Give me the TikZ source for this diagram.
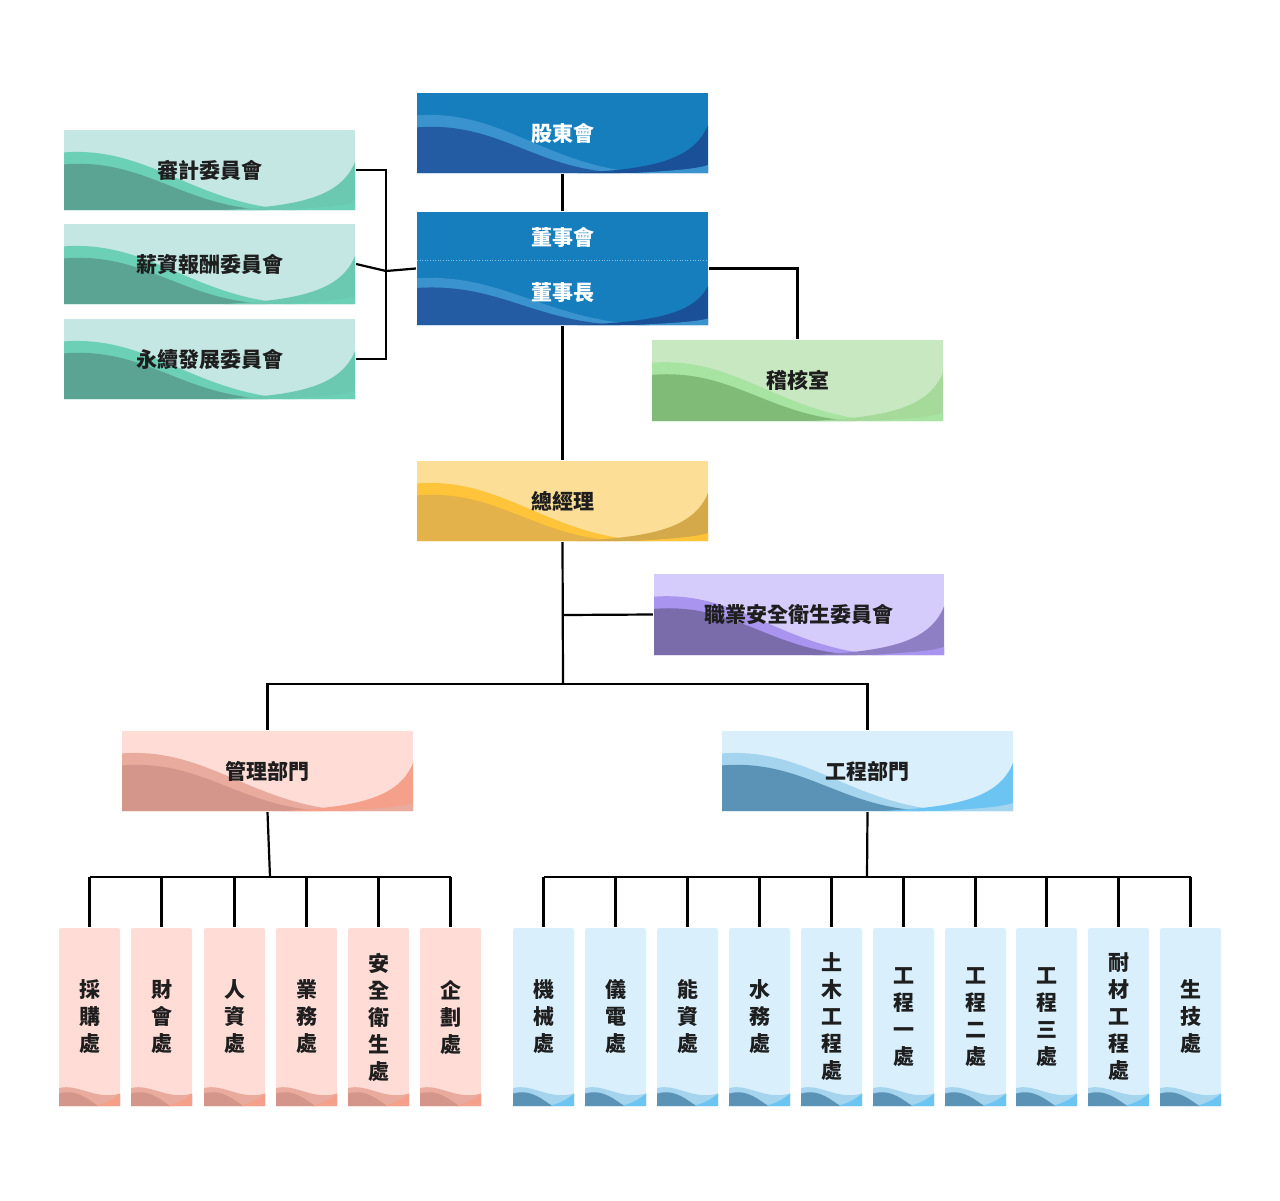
\documentclass[tikz,border=0pt]{standalone}
\usepackage{fontspec}
\setmainfont{Noto Sans CJK TC}
\begin{document}
\begin{tikzpicture}[x=1pt,y=-1pt,line width=2.2pt,
  ln/.style={draw=black,line width=2.2pt},
  lbl/.style={font=\bfseries\fontsize{21}{24}\selectfont,inner sep=0pt}]
\useasboundingbox (0,0) rectangle (1280,1200);
% colours
\definecolor{blbase}{HTML}{177EBD}\definecolor{bldark}{HTML}{235CA2}\definecolor{blband}{HTML}{3A92CE}\definecolor{blright}{HTML}{1A5098}\definecolor{bltext}{HTML}{FFFFFF}
\definecolor{tebase}{HTML}{C4E7E3}\definecolor{tedark}{HTML}{5BA393}\definecolor{teband}{HTML}{6CD0B6}\definecolor{teright}{HTML}{6BC9B1}\definecolor{tetext}{HTML}{1E1E1E}
\definecolor{grbase}{HTML}{C7E8C0}\definecolor{grdark}{HTML}{80BC78}\definecolor{grband}{HTML}{A8E4A1}\definecolor{grright}{HTML}{A6DA9B}\definecolor{grtext}{HTML}{1E1E1E}
\definecolor{yebase}{HTML}{FDDE96}\definecolor{yedark}{HTML}{E3B24A}\definecolor{yeband}{HTML}{FFC43A}\definecolor{yeright}{HTML}{D3A94A}\definecolor{yetext}{HTML}{1E1E1E}
\definecolor{pubase}{HTML}{D6CCFB}\definecolor{pudark}{HTML}{7A6BAA}\definecolor{puband}{HTML}{A995F0}\definecolor{puright}{HTML}{8E7FC4}\definecolor{putext}{HTML}{1E1E1E}
\definecolor{sabase}{HTML}{FFDDD6}\definecolor{sadark}{HTML}{D4968A}\definecolor{saband}{HTML}{E8AB9D}\definecolor{saright}{HTML}{F4A08A}\definecolor{satext}{HTML}{1E1E1E}
\definecolor{lbbase}{HTML}{D9F0FC}\definecolor{lbdark}{HTML}{5A93B5}\definecolor{lbband}{HTML}{A5D4EE}\definecolor{lbright}{HTML}{6CC4F2}\definecolor{lbtext}{HTML}{1E1E1E}
\newcommand\wavefill[5]{% x y w h prefix
 \begin{scope}[shift={(#1,#2)},x={(#3pt,0)},y={(0,-#4pt)}]
  \fill[#5base] (0,0) rectangle (1,1);
  \fill[#5band] (0,0.28) .. controls (0.3,0.2) and (0.45,0.95) .. (0.8,1) -- (0,1) -- cycle;
  \fill[#5dark] (0,0.43) .. controls (0.28,0.35) and (0.4,0.95) .. (0.7,1) -- (0,1) -- cycle;
  \fill[#5right] (0.55,1) .. controls (0.8,0.95) and (0.95,0.85) .. (1,0.4) -- (1,1) -- cycle;
  \fill[#5band] (0.75,1) .. controls (0.88,0.97) and (0.96,0.95) .. (1,0.9) -- (1,1) -- cycle;
 \end{scope}}
\newcommand\wbox[7]{% name x y w h prefix text
 \wavefill{#2}{#3}{#4}{#5}{#6}
 \node[lbl,text=#6text,minimum width=#4pt,minimum height=#5pt] (#1) at ({#2+#4/2},{#3+#5/2}) {#7};}
\newcommand\vb[4]{% name x prefix text
 \begin{scope}[shift={(#2,928)},x={(61pt,0)},y={(0,-178pt)}]
  \fill[#3base,rounded corners=2pt] (0,0) rectangle (1,1);
  \fill[#3band] (0,0.9) .. controls (0.3,0.87) and (0.6,0.97) .. (1,0.93) -- (1,1) -- (0,1) -- cycle;
  \fill[#3dark] (0,0.93) .. controls (0.3,0.9) and (0.5,0.97) .. (0.65,1) -- (0,1) -- cycle;
  \fill[#3right] (0.6,1) .. controls (0.8,0.98) and (0.9,0.96) .. (1,0.93) -- (1,1) -- cycle;
 \end{scope}
 \node[lbl,text=#3text,minimum width=61pt,minimum height=178pt,align=center,font=\bfseries\fontsize{21}{27}\selectfont] (#1) at ({#2+30.5},1017) {#4};}
% boxes
\wbox{gd}{417}{93}{291}{80}{bl}{股東會}
\fill[blbase] (417,212) rectangle (708,260);
\wavefill{417}{260}{291}{65}{bl}
\draw[blband!60!white,line width=0.6pt,dotted] (417,260) -- (708,260);
\node[lbl,text=white] at (562.5,237) {董事會};
\node[lbl,text=white] at (562.5,293) {董事長};
\node[minimum width=291pt,minimum height=113pt,inner sep=0pt] (bd) at (562.5,268.5) {};
\wbox{c1}{64}{130}{291}{80}{te}{審計委員會}
\wbox{c2}{64}{224}{291}{80}{te}{薪資報酬委員會}
\wbox{c3}{64}{319}{291}{80}{te}{永續發展委員會}
\wbox{au}{652}{340}{291}{81}{gr}{稽核室}
\wbox{gm}{417}{461}{291}{80}{ye}{總經理}
\wbox{os}{654}{574}{290}{81}{pu}{職業安全衛生委員會}
\wbox{mg}{122}{731}{291}{80}{sa}{管理部門}
\wbox{en}{722}{731}{291}{80}{lb}{工程部門}
\vb{a1}{59}{sa}{採\\購\\處}
\vb{a2}{131}{sa}{財\\會\\處}
\vb{a3}{204}{sa}{人\\資\\處}
\vb{a4}{276}{sa}{業\\務\\處}
\vb{a5}{348}{sa}{安\\全\\衛\\生\\處}
\vb{a6}{420}{sa}{企\\劃\\處}
\vb{b1}{513}{lb}{機\\械\\處}
\vb{b2}{585}{lb}{儀\\電\\處}
\vb{b3}{657}{lb}{能\\資\\處}
\vb{b4}{729}{lb}{水\\務\\處}
\vb{b5}{801}{lb}{土\\木\\工\\程\\處}
\vb{b6}{873}{lb}{工\\程\\一\\處}
\vb{b7}{945}{lb}{工\\程\\二\\處}
\vb{b8}{1016}{lb}{工\\程\\三\\處}
\vb{b9}{1088}{lb}{耐\\材\\工\\程\\處}
\vb{b10}{1160}{lb}{生\\技\\處}
% connectors
\coordinate (cb) at (386,271);
\draw[ln] (c1.east) -| (cb) |- (c3.east);
\draw[ln] (c2.east) -- (cb) -- (bd.west);
\draw[ln] (gd.south) -- (bd.north);
\draw[ln] (bd.east) -| (au.north);
\draw[ln] (bd.south) -- (gm.north);
\coordinate (g2) at (563,684);
\draw[ln] (gm.south) -- (g2);
\draw[ln] (563,615) -- (os.west);
\draw[ln] (mg.north) |- (g2) -| (en.north);
\coordinate (m1) at (270,877);
\coordinate (e1) at (867,877);
\draw[ln] (mg.south) -- (m1);
\draw[ln] (en.south) -- (e1);
\foreach \n in {a1,a2,a3,a4,a5,a6} \draw[ln] (\n.north) -- (\n.north |- m1);
\draw[ln] (a1.north |- m1) -- (a6.north |- m1);
\foreach \n in {b1,b2,b3,b4,b5,b6,b7,b8,b9,b10} \draw[ln] (\n.north) -- (\n.north |- e1);
\draw[ln] (b1.north |- e1) -- (b10.north |- e1);
\end{tikzpicture}
\end{document}
